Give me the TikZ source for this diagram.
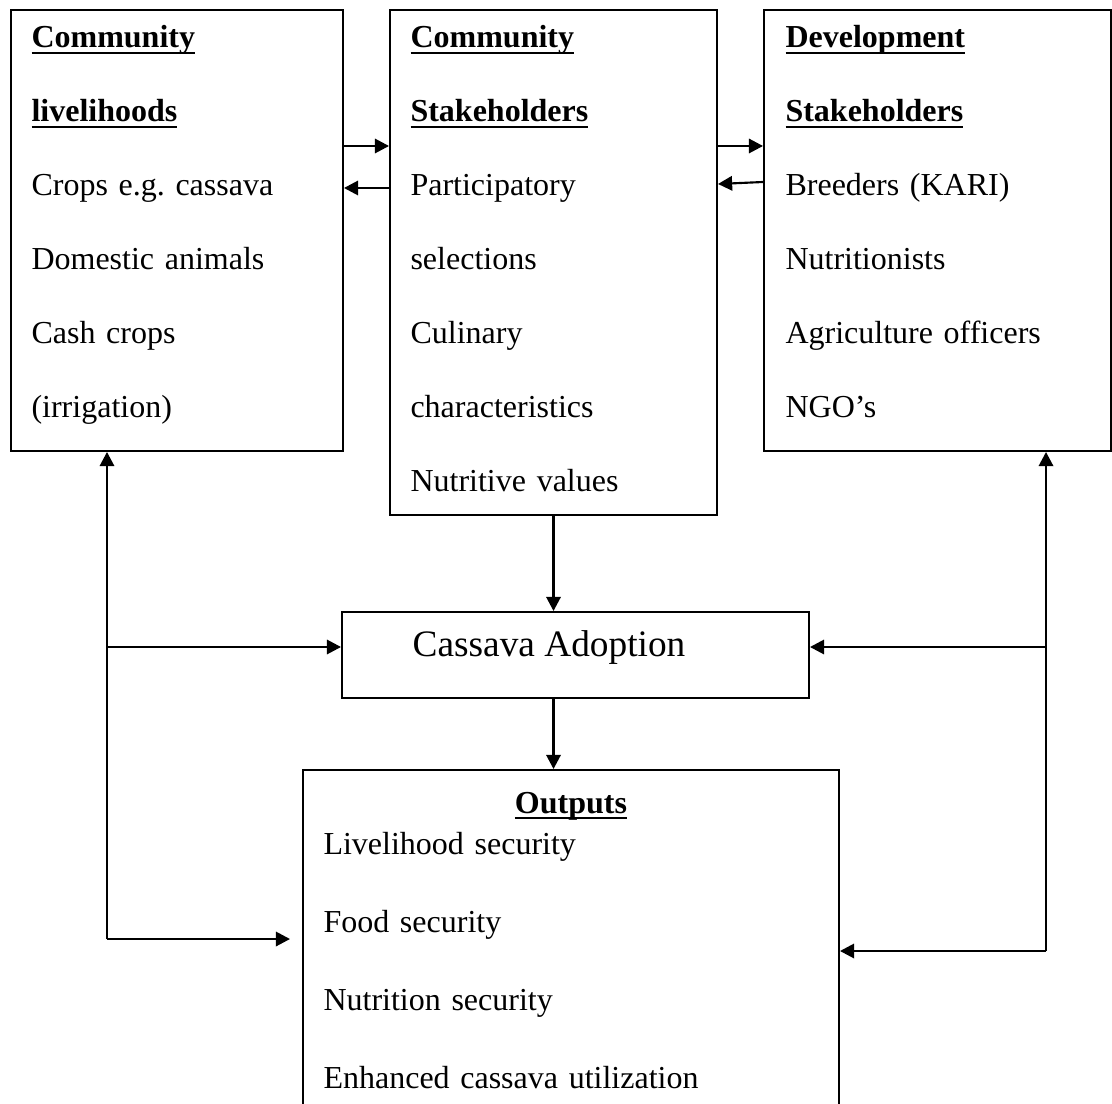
\documentclass[tikz,border=0pt]{standalone}
\usepackage{fontspec}
\setmainfont{Liberation Serif}
\usetikzlibrary{arrows.meta,positioning}
\frenchspacing

\newsavebox\hdbox
\newcommand{\headtxt}[1]{\leavevmode\sbox\hdbox{\textbf{#1}}\rlap{\rule[-2.3pt]{\wd\hdbox}{0.8pt}}\usebox\hdbox}

\begin{document}
\begin{tikzpicture}
[x=0.375pt, y=-0.375pt,
 box/.style={draw,line width=0.75pt,inner sep=0pt,anchor=north west},
 lines/.style={inner sep=0pt,anchor=base west,text width=6cm,align=left,font=\fontsize{12}{27.75}\selectfont},
 outlines/.style={inner sep=0pt,anchor=base west,text width=8cm,align=left,font=\fontsize{12}{29.25}\selectfont},
 conn/.style={line width=0.8pt,-{Triangle[length=5.3pt,width=5.4pt]}}]
\clip (0,0) rectangle (1112,1104);
% boxes
\node[box,minimum width=124.5pt,minimum height=165.375pt]   (CL)    at (10,9)   {};
\node[box,minimum width=122.625pt,minimum height=189.375pt] (CS)    at (389,9)  {};
\node[box,minimum width=130.125pt,minimum height=165.375pt] (DS)    at (763,9)  {};
\node[box,minimum width=175.125pt,minimum height=32.25pt]   (adopt) at (341,611) {};
\node[box,minimum width=201pt,minimum height=150pt]         (out)   at (302,769) {};
% texts
\node[lines] (CLtxt) at (31,48)
  {\headtxt{Community}\\ \headtxt{livelihoods}\\ Crops e.g. cassava\\ Domestic animals\\ Cash crops\\ (irrigation)};
\node[lines] (CStxt) at (410,48)
  {\headtxt{Community}\\ \headtxt{Stakeholders}\\ Participatory\\ selections\\ Culinary\\ characteristics\\ Nutritive values};
\node[lines] (DStxt) at (785,48)
  {\headtxt{Development}\\ \headtxt{Stakeholders}\\ Breeders (KARI)\\ Nutritionists\\ Agriculture officers\\ NGO’s};
\node[inner sep=0pt,anchor=base,font=\fontsize{14}{16}\selectfont] (adtxt) at (549,656) {Cassava Adoption};
\node[inner sep=0pt,anchor=base,font=\fontsize{12}{14}\selectfont] (outhead) at (571,813) {\headtxt{Outputs}};
\node[outlines] (outtxt) at (323,854)
  {Livelihood security\\ Food security\\ Nutrition security\\ Enhanced cassava utilization};
% turning points
\coordinate (lturn) at (107,939);
\coordinate (ltip)  at (290,939);
\coordinate (rturn) at (1046,951);
% connectors
\draw[conn] (CL.east |- 0,146) -- (CS.west |- 0,146);
\draw[conn] (CS.west |- 0,188) -- (CL.east |- 0,188);
\draw[conn] (CS.east |- 0,146) -- (DS.west |- 0,146);
\draw[conn] (DS.west |- 0,182) -- (CS.east |- 0,184);
\draw[conn] (CS.south) -- (CS.south |- adopt.north);
\draw[conn] (adopt.south -| CS.south) -- (out.north -| CS.south);
\draw[conn] (lturn) -- (lturn |- CL.south);
\draw[conn] (lturn) -- (ltip);
\draw[conn] (lturn |- 0,647) -- (adopt.west |- 0,647);
\draw[conn] (rturn) -- (rturn |- DS.south);
\draw[conn] (rturn) -- (out.east |- rturn);
\draw[conn] (rturn |- 0,647) -- (adopt.east |- 0,647);
\end{tikzpicture}
\end{document}
